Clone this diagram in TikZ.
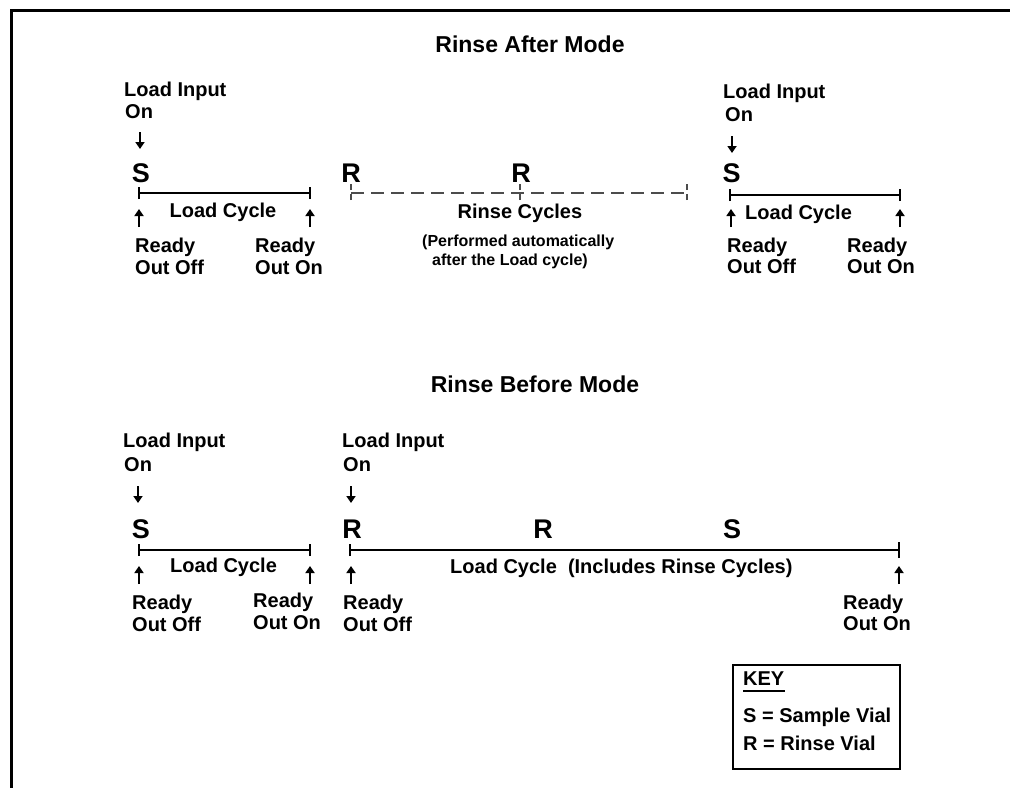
\documentclass[tikz,border=0pt]{standalone}
\usepackage{fontspec}
\setmainfont{Liberation Sans}
\usetikzlibrary{arrows.meta}
\begin{document}
\begin{tikzpicture}[x=1pt,y=-1pt,
  lbl/.style={font=\fontsize{20}{22}\selectfont\bfseries, inner sep=0pt, anchor=base west},
  lblc/.style={lbl, anchor=base},
  ttl/.style={font=\fontsize{23}{26}\selectfont\bfseries, inner sep=0pt, anchor=base},
  vial/.style={font=\fontsize{27}{28}\selectfont\bfseries, inner sep=0pt, anchor=base},
  note/.style={font=\fontsize{16}{19}\selectfont\bfseries, inner sep=0pt, anchor=base west},
  tl/.style={line width=2pt, black},
  dtl/.style={line width=1.2pt, black!70, dash pattern=on 13pt off 7pt},
  arr/.style={line width=2pt, -{Triangle[length=7pt,width=9pt]}},
  frame/.style={line width=3pt, black},
  keybox/.style={draw, line width=2pt, minimum width=167pt, minimum height=104pt, anchor=north west, inner sep=0pt}]
\useasboundingbox (0,0) rectangle (1010,788);
% frame (top and left only)
\coordinate (fa) at (1010,10.5);
\coordinate (fb) at (11.5,10.5);
\coordinate (fc) at (11.5,788);
\draw[frame] (fa) -- (fb) -- (fc);

% ---------------- Rinse After Mode ----------------
\node[ttl] (t1) at (530,52) {Rinse After Mode};

% left block
\node[lbl] (li1) at (124,96) {Load Input};
\node[lbl] (on1) at (125,118) {On};
\coordinate (d1a) at (140,132); \coordinate (d1b) at (140,149);
\draw[arr] (d1a) -- (d1b);
\node[vial] (s1) at (141,182) {S};
\coordinate (l1a) at (139,193); \coordinate (l1b) at (310,193);
\draw[tl] (l1a) -- (l1b);
\draw[tl] ([yshift=-6pt]l1a) -- ([yshift=6pt]l1a);
\draw[tl] ([yshift=-6pt]l1b) -- ([yshift=6pt]l1b);
\node[lblc] (lc1) at (223,217) {Load Cycle};
\coordinate (u1a) at (139,227); \coordinate (u1b) at (139,209);
\draw[arr] (u1a) -- (u1b);
\coordinate (u2a) at (310,227); \coordinate (u2b) at (310,209);
\draw[arr] (u2a) -- (u2b);
\node[lbl] (r1) at (135,252) {Ready};
\node[lbl] (o1) at (135,274) {Out Off};
\node[lbl] (r2) at (255,252) {Ready};
\node[lbl] (o2) at (255,274) {Out On};

% middle (rinse cycles)
\node[vial] (ra) at (351,182) {R};
\node[vial] (rb) at (521,182) {R};
\coordinate (m1) at (351,193); \coordinate (m2) at (520,193); \coordinate (m3) at (687,193);
\draw[dtl] (m1) -- (m3);
\draw[dtl, dash pattern=on 6pt off 4pt] ([yshift=-7pt]m1) -- ([yshift=10pt]m1);
\draw[dtl, dash pattern=on 6pt off 4pt] ([yshift=-7pt]m2) -- ([yshift=10pt]m2);
\draw[dtl, dash pattern=on 6pt off 4pt] ([yshift=-7pt]m3) -- ([yshift=10pt]m3);
\node[lblc] (rc) at (520,218) {Rinse Cycles};
\node[note] (pa) at (422,246) {(Performed automatically};
\node[note] (pb) at (432,265) {after the Load cycle)};

% right block
\node[lbl] (li2) at (723,98) {Load Input};
\node[lbl] (on2) at (725,121) {On};
\coordinate (d2a) at (732,136); \coordinate (d2b) at (732,153);
\draw[arr] (d2a) -- (d2b);
\node[vial] (s2) at (731.5,182) {S};
\coordinate (l2a) at (730,195); \coordinate (l2b) at (900,195);
\draw[tl] (l2a) -- (l2b);
\draw[tl] ([yshift=-6pt]l2a) -- ([yshift=6pt]l2a);
\draw[tl] ([yshift=-6pt]l2b) -- ([yshift=6pt]l2b);
\node[lbl] (lc2) at (745,219) {Load Cycle};
\coordinate (u3a) at (731,227); \coordinate (u3b) at (731,209);
\draw[arr] (u3a) -- (u3b);
\coordinate (u4a) at (900,227); \coordinate (u4b) at (900,209);
\draw[arr] (u4a) -- (u4b);
\node[lbl] (r3) at (727,252) {Ready};
\node[lbl] (o3) at (727,273) {Out Off};
\node[lbl] (r4) at (847,252) {Ready};
\node[lbl] (o4) at (847,273) {Out On};

% ---------------- Rinse Before Mode ----------------
\node[ttl] (t2) at (535,392) {Rinse Before Mode};

% left block
\node[lbl] (li3) at (123,447) {Load Input};
\node[lbl] (on3) at (124,471) {On};
\coordinate (d3a) at (138,486); \coordinate (d3b) at (138,503);
\draw[arr] (d3a) -- (d3b);
\node[vial] (s3) at (141,538) {S};
\coordinate (l3a) at (139,550); \coordinate (l3b) at (310,550);
\draw[tl] (l3a) -- (l3b);
\draw[tl] ([yshift=-6pt]l3a) -- ([yshift=6pt]l3a);
\draw[tl] ([yshift=-6pt]l3b) -- ([yshift=6pt]l3b);
\node[lbl] (lc3) at (170,572) {Load Cycle};
\coordinate (u5a) at (139,584); \coordinate (u5b) at (139,566);
\draw[arr] (u5a) -- (u5b);
\coordinate (u6a) at (310,584); \coordinate (u6b) at (310,566);
\draw[arr] (u6a) -- (u6b);
\node[lbl] (r5) at (132,609) {Ready};
\node[lbl] (o5) at (132,631) {Out Off};
\node[lbl] (r6) at (253,607) {Ready};
\node[lbl] (o6) at (253,629) {Out On};

% long block
\node[lbl] (li4) at (342,447) {Load Input};
\node[lbl] (on4) at (343,471) {On};
\coordinate (d4a) at (351,486); \coordinate (d4b) at (351,503);
\draw[arr] (d4a) -- (d4b);
\node[vial] (rc1) at (352,538) {R};
\node[vial] (rc2) at (543,538) {R};
\node[vial] (sc3) at (732,538) {S};
\coordinate (l4a) at (350,550); \coordinate (l4b) at (899,550);
\draw[tl] (l4a) -- (l4b);
\draw[tl] ([yshift=-6pt]l4a) -- ([yshift=6pt]l4a);
\draw[tl] ([yshift=-8pt]l4b) -- ([yshift=8pt]l4b);
\node[lbl] (lc4) at (450,573) {Load Cycle\ \ (Includes Rinse Cycles)};
\coordinate (u7a) at (351,584); \coordinate (u7b) at (351,566);
\draw[arr] (u7a) -- (u7b);
\coordinate (u8a) at (899,584); \coordinate (u8b) at (899,566);
\draw[arr] (u8a) -- (u8b);
\node[lbl] (r7) at (343,609) {Ready};
\node[lbl] (o7) at (343,631) {Out Off};
\node[lbl] (r8) at (843,609) {Ready};
\node[lbl] (o8) at (843,630) {Out On};

% key
\node[keybox] (key) at (732,664) {};
\node[lbl] (kt) at (743,685) {KEY};
\draw[line width=1.5pt] ([yshift=-6pt]kt.base west) -- ([yshift=-6pt]kt.base east);
\node[lbl] (k1) at (743,722) {S = Sample Vial};
\node[lbl] (k2) at (743,750) {R = Rinse Vial};
\end{tikzpicture}
\end{document}
